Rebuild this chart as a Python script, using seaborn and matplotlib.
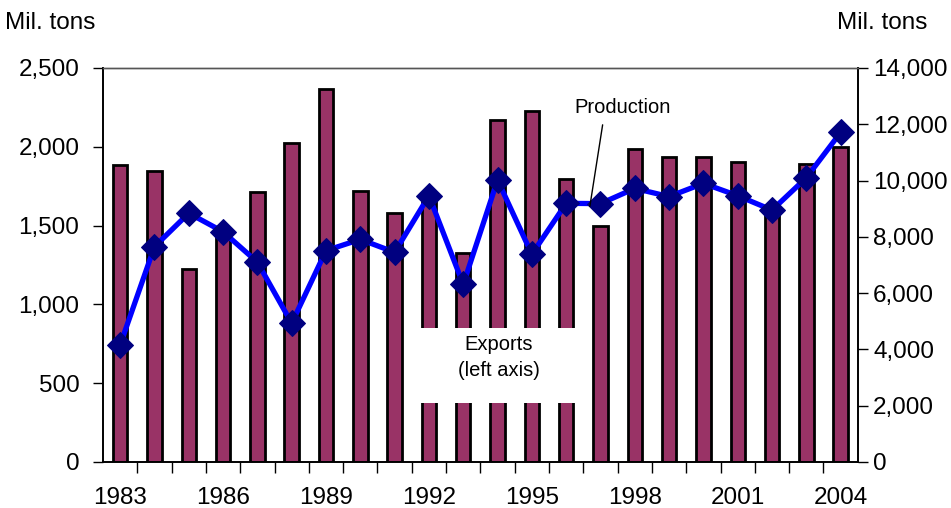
import matplotlib
matplotlib.use("Agg")
import matplotlib.pyplot as plt
from matplotlib.patches import Rectangle
from matplotlib.ticker import FuncFormatter, MultipleLocator
import pandas as pd
import seaborn as sns

YEARS = list(range(1983, 2005))
EXPORTS = [1885, 1848, 1224, 1475, 1715, 2026, 2365, 1722, 1582, 1685, 1328,
           2170, 2225, 1796, 1500, 1984, 1933, 1937, 1902, 1600, 1893, 1999]
PRODUCTION = [4160, 7650, 8840, 8180, 7100, 4930, 7510, 7910, 7450, 9460, 6310,
              10020, 7380, 9190, 9180, 9720, 9430, 9900, 9460, 8950, 10100, 11710]
XTICK_YEARS = [1983, 1986, 1989, 1992, 1995, 1998, 2001, 2004]

sns.set_theme(style="white")
plt.rcParams["font.family"] = ["Liberation Sans", "DejaVu Sans"]
plt.rcParams["text.color"] = "black"
plt.rcParams["xtick.color"] = "black"
plt.rcParams["ytick.color"] = "black"

df = pd.DataFrame({"year": YEARS, "exports": EXPORTS, "production": PRODUCTION})

fig = plt.figure(figsize=(9.51, 5.08), dpi=100)
ax = fig.add_axes([0.1083, 0.0906, 0.7937, 0.7756])

sns.barplot(data=df, x="year", y="exports", native_scale=True, width=0.42,
            color="#993366", saturation=1, edgecolor="black", linewidth=2, ax=ax)

ax2 = ax.twinx()
sns.lineplot(data=df, x="year", y="production", color="#0000FF", linewidth=3.8,
             marker="D", markersize=13, markerfacecolor="#000080",
             markeredgecolor="#000080", ax=ax2)

ax.set_xlim(1982.5, 2004.5)
ax.set_ylim(0, 2500)
ax2.set_ylim(0, 14000)
ax.yaxis.set_major_locator(MultipleLocator(500))
ax2.yaxis.set_major_locator(MultipleLocator(2000))
fmt = FuncFormatter(lambda v, _: f"{int(v):,}")
ax.yaxis.set_major_formatter(fmt)
ax2.yaxis.set_major_formatter(fmt)

ax.set_xticks(XTICK_YEARS)
ax.set_xticks([y + 0.5 for y in YEARS[:-1]], minor=True)
ax.tick_params(axis="x", which="major", length=0, labelsize=17.5, pad=18,
               labelcolor="black")
ax.tick_params(axis="x", which="minor", length=8, width=1, color="black",
               direction="out", bottom=True)
ax.tick_params(axis="y", length=7, width=1, color="black", direction="out",
               labelsize=17.5, left=True, pad=10, labelcolor="black")
ax2.tick_params(axis="y", length=7, width=1, color="black", direction="out",
                labelsize=17.5, right=True, pad=4, labelcolor="black")

for a in (ax, ax2):
    a.set_xlabel("")
    a.set_ylabel("")
    for side in ("left", "right", "bottom"):
        a.spines[side].set_color("black")
        a.spines[side].set_linewidth(1.2)
    a.spines["top"].set_color("#555555")
    a.spines["top"].set_linewidth(1.0)

# white patch behind the exports label
ax.add_patch(Rectangle((0.407, 0.150), 0.219, 0.19, transform=ax.transAxes,
                       facecolor="white", edgecolor="none", zorder=5))
ax.text(0.524, 0.265, "Exports\n(left axis)", transform=ax.transAxes,
        ha="center", va="center", fontsize=14.5, linespacing=1.45, zorder=6,
        color="black")

ax2.annotate("Production", xy=(1996.69, 9080), xytext=(1997.63, 12580),
             ha="center", va="center", fontsize=14.5, color="black",
             arrowprops=dict(arrowstyle="-", color="black", lw=1,
                             relpos=(0.31, 0.0), shrinkA=3, shrinkB=0))

fig.text(0.005, 0.955, "Mil. tons", fontsize=17.5, ha="left", va="center",
         color="black")
fig.text(0.975, 0.955, "Mil. tons", fontsize=17.5, ha="right", va="center",
         color="black")

fig.savefig("out.png", dpi=100)
